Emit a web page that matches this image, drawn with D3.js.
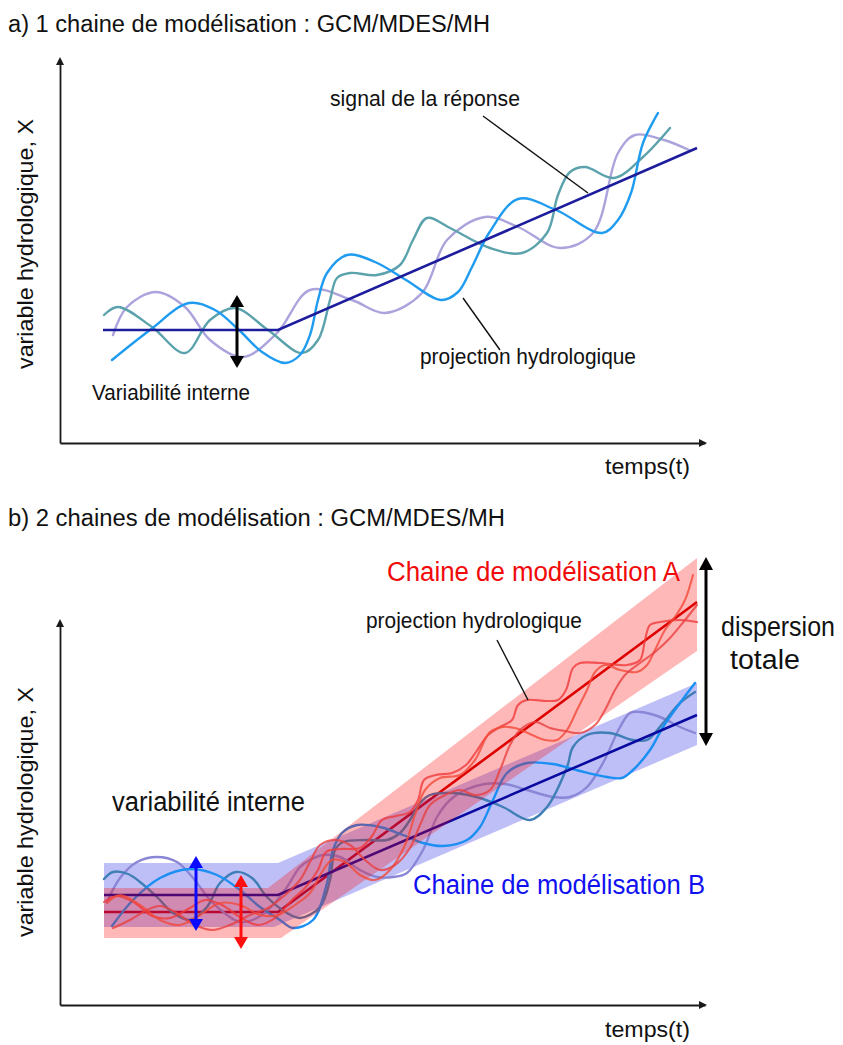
<!DOCTYPE html>
<html>
<head>
<meta charset="utf-8">
<script src="https://cdn.jsdelivr.net/npm/d3@7"></script>
<style>
  body { margin: 0; background: #fff; }
  text { font-family: "Liberation Sans", Arial, Helvetica, sans-serif; fill: #111; }
</style>
</head>
<body>
<svg id="fig" width="843" height="1045"></svg>
<script>
// ---- data: [t, X] pairs, t = temps, X = variable hydrologique (arbitrary units)
// panel a : one modelling chain
const signalA = [[4.3, 11.3], [21.8, 11.3], [63.7, 29.5]];
const projA1 = [[5.2,8.3],[9.0,11.3],[12.9,14.0],[15.5,13.3],[17.9,11.3],[20.2,9.1],[22.5,8.0],[24.0,8.8],
  [25.0,10.8],[25.8,14.3],[26.7,17.0],[28.7,18.8],[31.5,18.1],[34.6,16.3],[38.1,14.3],[39.8,15.1],[41.2,17.6],
  [42.9,21.0],[45.8,24.4],[49.6,23.3],[54.2,21.0],[55.8,22.3],[57.1,25.0],[58.3,30.0],[59.8,33.0]];
const projA2 = [[4.4,12.8],[5.8,13.6],[9.2,11.6],[12.5,9.0],[15.0,12.3],[17.5,13.5],[20.8,11.3],[24.2,9.0],
  [25.8,10.3],[27.0,14.3],[27.7,16.5],[29.0,17.0],[31.7,16.8],[34.0,17.8],[35.3,20.3],[36.7,22.5],[39.0,21.5],
  [43.0,19.5],[46.2,19.0],[48.7,21.0],[49.8,24.8],[51.0,27.1],[52.5,27.6],[55.4,26.5],[58.3,28.6],[61.0,31.5]];
const projA3 = [[5.3,10.8],[6.7,13.6],[9.6,15.1],[12.5,13.6],[15.0,10.3],[18.3,8.6],[21.7,11.0],[25.0,15.3],
  [29.2,14.3],[32.5,13.0],[36.2,15.0],[38.7,20.3],[42.5,22.6],[45.8,21.6],[50.0,19.5],[53.3,21.0],[55.8,29.0],
  [57.5,30.8],[60.4,30.3],[62.9,29.3]];

// panel b : two modelling chains (A red, B blue)
const signalChainA = [[4.4, 9.3], [21.8, 9.3], [63.7, 40.3]];
const signalChainB = [[4.4, 11.0], [21.8, 11.0], [63.7, 29.0]];
const bandAUpper = [[4.4, 11.7], [20.8, 11.7], [63.7, 44.7]];
const bandALower = [[4.4, 6.7], [22.1, 6.7], [63.7, 35.4]];
const bandBUpper = [[4.4, 14.2], [21.8, 14.2], [63.7, 32.2]];
const bandBLower = [[4.4, 7.8], [21.4, 7.8], [63.7, 26.0]];

const projB1 = [[5.2,7.9],[7.3,10.5],[10.0,12.7],[13.0,13.6],[15.7,13.0],[18.0,11.5],[20.0,9.8],[22.0,8.5],
  [23.3,7.7],[25.3,8.5],[26.7,12.2],[27.3,15.5],[28.2,17.2],[29.7,18.0],[32.0,17.8],[34.3,17.0],[36.3,16.2],
  [38.3,15.9],[40.7,16.5],[42.0,17.8],[43.3,20.5],[44.7,23.2],[46.7,24.2],[49.3,24.1],[52.0,23.4],[54.7,22.8],
  [56.2,22.7],[57.3,23.5],[59.0,25.5],[60.3,27.8],[62.0,30.2],[63.5,32.2]];
const projB2 = [[4.4,12.6],[5.3,13.3],[6.8,13.1],[8.0,12.3],[9.7,10.8],[11.3,9.2],[13.0,8.5],[14.7,9.8],
  [16.0,12.2],[17.6,13.3],[19.2,12.7],[20.7,10.8],[22.7,9.2],[24.0,8.7],[26.0,9.8],[27.0,12.5],[27.5,15.5],
  [28.3,16.3],[30.7,16.5],[32.7,16.5],[34.0,17.2],[35.0,18.5],[36.0,20.2],[37.0,21.0],[39.3,21.2],[42.0,20.7],
  [44.3,19.8],[47.0,18.5],[48.7,19.8],[50.7,23.8],[51.3,25.8],[52.7,27.0],[55.0,27.2],[57.3,26.5],[58.7,26.5],
  [60.3,28.2],[62.0,30.2],[63.5,31.3]];
const projB3 = [[4.7,10.3],[6.0,12.7],[7.7,14.3],[9.7,14.8],[11.7,14.3],[13.3,12.7],[15.0,10.5],[16.7,9.0],
  [18.0,8.3],[19.7,8.7],[21.3,10.0],[22.7,11.8],[24.0,13.8],[25.0,14.5],[26.3,15.0],[28.0,14.8],[30.0,13.5],
  [31.7,12.8],[33.3,12.8],[34.7,13.2],[36.3,15.5],[37.7,18.8],[39.0,20.5],[40.5,21.5],[42.5,22.1],[44.5,22.1],
  [46.7,21.5],[49.3,20.8],[51.0,20.8],[52.7,21.8],[54.3,24.2],[56.0,27.8],[57.0,29.2],[58.0,29.3],[60.0,28.8],
  [62.0,27.8],[63.5,27.2]];
const projR1 = [[4.4,10.3],[5.7,10.9],[7.5,10.2],[9.2,8.9],[11.0,8.7],[13.0,9.7],[14.5,10.5],[16.2,10.0],
  [18.0,8.8],[19.8,8.0],[21.5,8.7],[23.2,10.5],[24.5,11.7],[25.8,13.5],[26.6,15.3],[28.0,15.6],[30.0,15.7],
  [31.2,16.9],[32.2,18.5],[33.6,18.9],[35.0,19.3],[35.8,20.5],[36.4,22.5],[37.6,23.0],[39.2,23.2],[40.6,24.0],
  [41.6,25.3],[42.8,27.0],[44.0,27.8],[45.2,28.5],[45.8,30.0],[46.7,30.5],[48.7,30.4],[49.8,30.5],[50.6,31.5],
  [51.3,33.7],[52.0,34.2],[54.0,34.2],[56.7,34.0],[58.0,34.5],[58.5,36.5],[59.0,38.0],[60.0,38.3],[62.0,38.5],
  [63.7,38.3]];
const projR2 = [[4.7,10.2],[6.0,11.0],[8.0,10.0],[10.0,8.5],[12.0,8.0],[14.0,9.0],[16.0,10.2],[18.0,10.0],
  [20.0,9.0],[21.8,9.0],[23.5,10.0],[25.0,11.2],[26.2,13.3],[27.2,14.5],[28.5,14.3],[30.0,13.0],[31.5,12.5],
  [33.0,13.5],[34.5,16.0],[35.5,19.0],[36.5,21.5],[38.0,22.7],[40.0,23.0],[41.5,24.5],[43.0,27.3],[44.3,27.8],
  [45.5,27.7],[47.0,27.1],[48.5,26.5],[49.7,26.5],[50.7,27.5],[51.7,29.5],[52.7,31.5],[53.5,33.3],[54.5,34.0],
  [56.0,33.5],[57.7,33.3],[58.7,34.0],[59.5,35.5],[60.5,37.5],[61.5,38.8],[62.5,40.5],[63.3,43.0]];
const projR3 = [[5.3,7.7],[7.0,8.5],[8.7,9.5],[10.0,9.9],[11.5,9.3],[13.5,8.0],[15.2,7.5],[17.0,8.0],
  [19.0,9.0],[20.8,9.7],[22.5,11.0],[24.0,12.5],[25.0,14.3],[26.0,16.0],[27.5,16.5],[29.0,16.0],[30.5,14.5],
  [32.0,13.5],[33.5,14.0],[35.0,15.7],[36.0,18.0],[37.0,20.0],[38.5,21.0],[40.0,21.5],[41.5,21.0],[43.0,21.5],
  [44.0,23.5],[45.0,26.0],[46.0,27.5],[47.5,28.3],[49.0,27.7],[50.5,27.4],[52.0,27.2],[53.5,28.0],[54.5,29.5],
  [55.5,31.5],[56.5,33.0],[58.0,34.2],[59.5,35.3],[61.0,36.7],[62.5,38.5],[63.7,40.0]];

// annotations: double arrows [t, Xtop, Xbottom] and leader lines [[t,X],[t,X]]
const arrowA = [17.7, 14.8, 7.5];
const arrowTotal = [64.6, 44.8, 25.9];
const arrowB = [13.6, 14.9, 7.4];
const arrowRed = [18.1, 13.0, 5.6];
const leaderSignal = [[42.3, 32.7], [52.8, 25.0]];
const leaderProjA = [[40.3, 14.5], [44.0, 9.3]];
const leaderProjB = [[43.7, 36.5], [46.8, 30.5]];

// ---- drawing
const svg = d3.select('#fig');
svg.append('rect').attr('width', 843).attr('height', 1045).attr('fill', '#fff');

const x = d3.scaleLinear().domain([0, 64.5]).range([60, 705]);
const yA = d3.scaleLinear().domain([0, 38.3]).range([443, 60]);
const yB = d3.scaleLinear().domain([0, 38.3]).range([1005, 622]);

function drawAxes(y) {
  const gx = svg.append('g').attr('transform', `translate(0,${y(0)})`)
    .call(d3.axisBottom(x).ticks(0).tickSizeOuter(0));
  const gy = svg.append('g').attr('transform', `translate(${x(0)},0)`)
    .call(d3.axisLeft(y).ticks(0).tickSizeOuter(0));
  [gx, gy].forEach(g => g.select('.domain').attr('stroke', '#1a1a1a').attr('stroke-width', 1.8));
  const x1 = x(64.5), y0 = y(0), yt = y(38.3);
  svg.append('path').attr('d', `M${x1 - 6},${y0 - 4}L${x1 + 2},${y0}L${x1 - 6},${y0 + 4}Z`).attr('fill', '#1a1a1a');
  svg.append('path').attr('d', `M${x(0) - 4},${yt + 5}L${x(0)},${yt - 3}L${x(0) + 4},${yt + 5}Z`).attr('fill', '#1a1a1a');
}

function curve(y, data, color, w, op) {
  svg.append('path').datum(data)
    .attr('d', d3.line().x(d => x(d[0])).y(d => y(d[1])).curve(d3.curveCatmullRom.alpha(0.5)))
    .attr('fill', 'none').attr('stroke', color).attr('stroke-width', w)
    .attr('stroke-opacity', op || 1).attr('stroke-linejoin', 'round').attr('stroke-linecap', 'round');
}

function straight(y, data, color, w) {
  svg.append('path').datum(data)
    .attr('d', d3.line().x(d => x(d[0])).y(d => y(d[1])))
    .attr('fill', 'none').attr('stroke', color).attr('stroke-width', w);
}

function band(y, upper, lower, color, op) {
  svg.append('path').datum(upper.concat(lower.slice().reverse()))
    .attr('d', d3.line().x(d => x(d[0])).y(d => y(d[1])).curve(d3.curveLinearClosed))
    .attr('fill', color).attr('fill-opacity', op);
}

function doubleArrow(y, a, color, w, hl, hw) {
  const cx = x(a[0]), t = y(a[1]), b = y(a[2]);
  svg.append('line').attr('x1', cx).attr('x2', cx).attr('y1', t + hl - 1).attr('y2', b - hl + 1)
    .attr('stroke', color).attr('stroke-width', w);
  svg.append('path').attr('d', `M${cx},${t}L${cx + hw},${t + hl}L${cx - hw},${t + hl}Z`).attr('fill', color);
  svg.append('path').attr('d', `M${cx},${b}L${cx + hw},${b - hl}L${cx - hw},${b - hl}Z`).attr('fill', color);
}

function leader(y, l) {
  svg.append('line').attr('x1', x(l[0][0])).attr('y1', y(l[0][1]))
    .attr('x2', x(l[1][0])).attr('y2', y(l[1][1])).attr('stroke', '#111').attr('stroke-width', 1.4);
}

function label(txt, px, py, size, len, color) {
  svg.append('text').attr('x', px).attr('y', py).attr('font-size', size)
    .attr('textLength', len).attr('lengthAdjust', 'spacingAndGlyphs')
    .style('fill', color || '#111').text(txt);
}

function yLabel(cy) {
  svg.append('text').attr('transform', `translate(33,${cy}) rotate(-90)`)
    .attr('text-anchor', 'middle').attr('font-size', 22)
    .attr('textLength', 250).attr('lengthAdjust', 'spacingAndGlyphs')
    .text('variable hydrologique, X');
}

// panel a
label('a) 1 chaine de modélisation : GCM/MDES/MH', 8, 32, 23, 482);
drawAxes(yA);
curve(yA, projA3, '#aba4dc', 2.4);
curve(yA, projA2, '#5ba2ac', 2.4);
curve(yA, projA1, '#1f9bf0', 2.4);
straight(yA, signalA, '#1c1c9c', 2.6);
doubleArrow(yA, arrowA, '#000', 3, 12, 7);
leader(yA, leaderSignal);
leader(yA, leaderProjA);
label('signal de la réponse', 330, 106, 22, 190);
label('projection hydrologique', 420, 364, 22, 216);
label('Variabilité interne', 92, 400, 22, 158);
label('temps(t)', 605, 474, 22, 85);
yLabel(yA(19.9));

// panel b : red chain line under both bands, blue chain over its own band, red band, red curves on top
label('b) 2 chaines de modélisation : GCM/MDES/MH', 8, 526, 23, 497);
drawAxes(yB);
straight(yB, signalChainA, '#d00000', 2.6);
band(yB, bandBUpper, bandBLower, '#2a2ae6', 0.3);
curve(yB, projB3, '#8a86d6', 2.4);
curve(yB, projB2, '#3f7fb6', 2.4);
curve(yB, projB1, '#1b8ff2', 2.4);
straight(yB, signalChainB, '#0a0aa0', 2.6);
band(yB, bandAUpper, bandALower, '#ff0000', 0.28);
curve(yB, projR1, '#f03a3a', 2.1, 0.8);
curve(yB, projR2, '#f24a3a', 2.1, 0.8);
curve(yB, projR3, '#e84040', 2.1, 0.8);
doubleArrow(yB, arrowTotal, '#000', 3, 13, 7);
doubleArrow(yB, arrowB, '#0a0aff', 3, 12, 7);
doubleArrow(yB, arrowRed, '#ff1010', 3, 12, 7);
leader(yB, leaderProjB);
label('Chaine de modélisation A', 387, 581, 27, 293, '#f00a0a');
label('projection hydrologique', 366, 628, 22, 216);
label('dispersion', 721, 636, 27, 114);
label('totale', 730, 669, 27, 70);
label('variabilité interne', 112, 811, 27, 193);
label('Chaine de modélisation B', 413, 894, 27, 292, '#1010f0');
label('temps(t)', 605, 1037, 22, 85);
yLabel(yB(19.3));
</script>
</body>
</html>
